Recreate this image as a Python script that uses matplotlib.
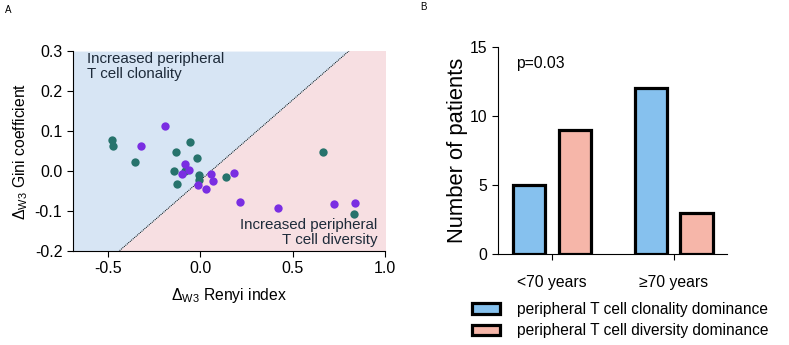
import matplotlib
matplotlib.use("Agg")
import matplotlib.pyplot as plt
import numpy as np

plt.rcParams["font.family"] = ["Liberation Sans", "DejaVu Sans"]
plt.rcParams["mathtext.fontset"] = "custom"
plt.rcParams["mathtext.rm"] = "Liberation Sans"
plt.rcParams["mathtext.it"] = "Liberation Sans:italic"

# ── Data ───────────────────────────────────────────────────────────────────────

# Panel A: change in Renyi index vs change in Gini coefficient
teal_x = [-0.475, -0.47, -0.352, -0.132, -0.056, -0.016, -0.141, -0.125,
          -0.081, -0.004, -0.006, 0.137, 0.666, 0.832]
teal_y = [0.078, 0.062, 0.021, 0.047, 0.072, 0.031, 0.0, -0.032,
          0.0, -0.010, -0.023, -0.015, 0.048, -0.107]
purple_x = [-0.193, -0.321, -0.080, -0.099, -0.058, -0.013, 0.031, 0.060,
            0.070, 0.182, 0.217, 0.419, 0.724, 0.836]
purple_y = [0.112, 0.063, 0.018, -0.007, 0.003, -0.036, -0.045, -0.008,
            -0.025, -0.006, -0.078, -0.092, -0.083, -0.081]

# dividing line y = slope * x + intercept
line_slope = 0.403
line_intercept = -0.024

# Panel B: patients by age group
age_groups = ["<70 years", "\u226570 years"]
clonality_counts = [5, 12]
diversity_counts = [9, 3]

TEAL = "#27736c"
PURPLE = "#7a2ee2"
BG_BLUE = "#d7e5f4"
BG_PINK = "#f7dfe2"
BAR_BLUE = "#86c1ee"
BAR_PINK = "#f6b6a9"

fig = plt.figure(figsize=(7.89, 3.45), dpi=100)

# ── Panel A ────────────────────────────────────────────────────────────────────
ax = fig.add_axes([0.0921, 0.2733, 0.3959, 0.5787])
xmin, xmax, ymin, ymax = -0.69, 1.0, -0.2, 0.3
xs = np.array([xmin, xmax + 0.02])
ys = line_slope * xs + line_intercept
ax.fill_between(xs, ys, ymax, color=BG_BLUE, lw=0, zorder=0)
ax.fill_between(xs, ymin, ys, color=BG_PINK, lw=0, zorder=0)
ax.plot(xs, ys, color="black", lw=0.7, ls=(0, (1, 1)), zorder=1)

ax.scatter(teal_x, teal_y, s=36, color=TEAL, lw=0, zorder=3)
ax.scatter(purple_x, purple_y, s=36, color=PURPLE, lw=0, zorder=3)

ax.set_xlim(xmin, xmax)
ax.set_ylim(ymin, ymax)
ax.set_xticks([-0.5, 0.0, 0.5, 1.0])
ax.set_xticklabels(["-0.5", "0.0", "0.5", "1.0"])
ax.set_yticks([-0.2, -0.1, 0.0, 0.1, 0.2, 0.3])
ax.set_yticklabels(["-0.2", "-0.1", "0.0", "0.1", "0.2", "0.3"])
for s in ["top", "right"]:
    ax.spines[s].set_visible(False)
ax.tick_params(labelsize=11.5, length=4, width=0.8)
ax.set_xlabel(r"$\Delta_{\mathrm{W3}}$ Renyi index", fontsize=11.3, labelpad=7)
ax.set_ylabel(r"$\Delta_{\mathrm{W3}}$ Gini coefficient", fontsize=11.3, labelpad=3)

ax.text(0.045, 0.995, "Increased peripheral\nT cell clonality",
        transform=ax.transAxes, ha="left", va="top", fontsize=10.9,
        linespacing=1.05, color="#1e2b3a")
ax.text(0.975, 0.02, "Increased peripheral\nT cell diversity",
        transform=ax.transAxes, ha="right", va="bottom", fontsize=10.9,
        linespacing=1.05, color="#1e2b3a")

fig.text(0.006, 0.97, "A", fontsize=7, ha="left", va="center")

# ── Panel B ────────────────────────────────────────────────────────────────────
bx = fig.add_axes([0.6308, 0.2629, 0.2902, 0.6009])
pos = np.arange(len(age_groups))
w = 0.265
off = 0.1875
bx.bar(pos - off, clonality_counts, w, color=BAR_BLUE, edgecolor="black",
       lw=2.3, label="peripheral T cell clonality dominance", zorder=2)
bx.bar(pos + off, diversity_counts, w, color=BAR_PINK, edgecolor="black",
       lw=2.3, label="peripheral T cell diversity dominance", zorder=2)
bx.set_xlim(-0.446, 1.435)
bx.set_ylim(0, 15)
bx.set_yticks([0, 5, 10, 15])
bx.set_xticks(pos)
bx.set_xticklabels(age_groups)
for s in ["top", "right"]:
    bx.spines[s].set_visible(False)
bx.tick_params(labelsize=11.3, length=4, width=0.8)
bx.tick_params(axis="x", pad=11)
bx.set_ylabel("Number of patients", fontsize=15.8, labelpad=1)
bx.text(0.08, 0.92, "p=0.03", transform=bx.transAxes, fontsize=11.3,
        ha="left", va="center")
bx.legend(loc="upper left", bbox_to_anchor=(-0.14, -0.2), frameon=False,
          fontsize=11.2, handlelength=1.8, handleheight=0.65,
          handletextpad=1.1, labelspacing=0.4, borderaxespad=0)

fig.text(0.533, 0.98, "B", fontsize=7, ha="left", va="center")

fig.savefig("out.png", dpi=100)
